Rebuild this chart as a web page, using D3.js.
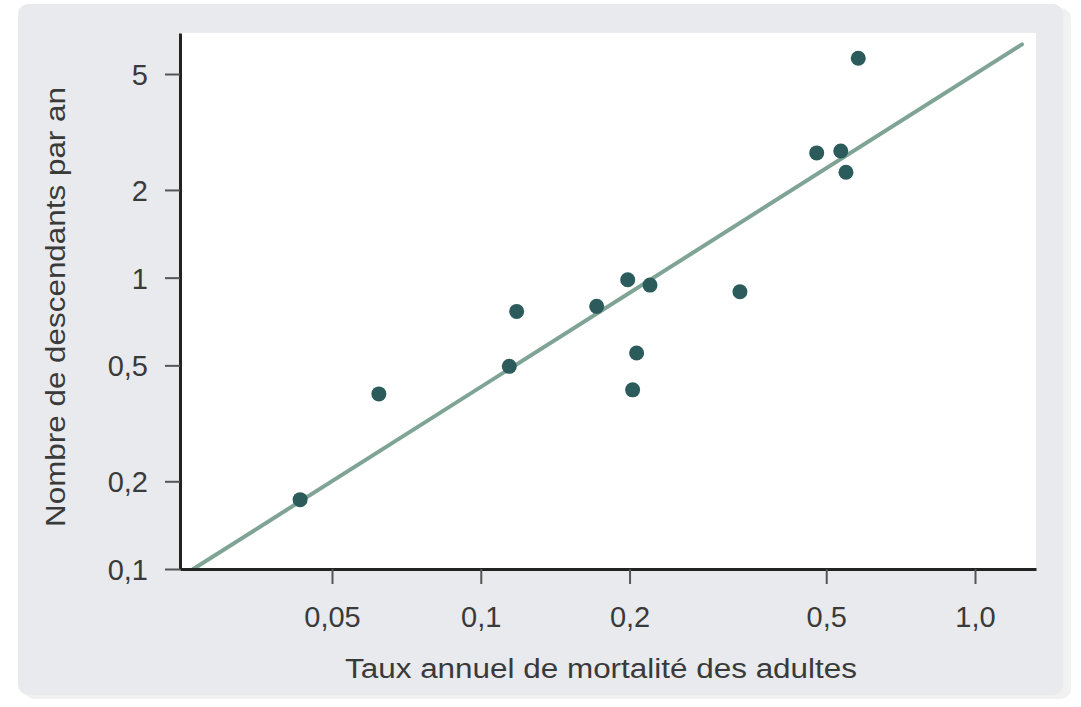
<!DOCTYPE html>
<html>
<head>
<meta charset="utf-8">
<script src="https://cdn.jsdelivr.net/npm/d3@7"></script>
<style>
  html, body { margin: 0; padding: 0; background: #ffffff; }
  svg { display: block; }
  text { font-family: "Liberation Sans", Arial, Helvetica, sans-serif; fill: #3a3a3a; }
</style>
</head>
<body>
<svg id="chart" width="1081" height="707"></svg>
<script>
// ---- data ----
const mortality = [0.0431, 0.0622, 0.1182, 0.1142, 0.1716, 0.1983, 0.2200, 0.2067, 0.2029, 0.3345, 0.4783, 0.5350, 0.5482, 0.5805];
const offspring = [0.173, 0.399, 0.766, 0.496, 0.797, 0.984, 0.943, 0.551, 0.412, 0.895, 2.68, 2.72, 2.30, 5.66];
const fitX = [0.0262, 1.245];
const fitY = [0.1, 6.32];
const xTickValues = [0.05, 0.1, 0.2, 0.5, 1.0];
const xTickLabels = ["0,05", "0,1", "0,2", "0,5", "1,0"];
const yTickValues = [0.1, 0.2, 0.5, 1, 2, 5];
const yTickLabels = ["0,1", "0,2", "0,5", "1", "2", "5"];
const xTitle = "Taux annuel de mortalité des adultes";
const yTitle = "Nombre de descendants par an";

const svg = d3.select("#chart");

// layout
const plotLeft = 180, plotRight = 1036, plotTop = 33, plotBottom = 569;

// background panel
svg.append("rect").attr("x", 24).attr("y", 8).attr("width", 1047).attr("height", 691)
  .attr("rx", 10).attr("fill", "#f1f1f2");
svg.append("rect").attr("x", 18).attr("y", 4).attr("width", 1045).attr("height", 691)
  .attr("rx", 10).attr("fill", "#e8eaed");

// scales (calibrated on tick positions)
const xBase = d3.scaleLog().domain([0.05, 1]).range([332, 975]);
const x = d3.scaleLog().domain([xBase.invert(plotLeft), xBase.invert(plotRight)]).range([plotLeft, plotRight]);
const yBase = d3.scaleLog().domain([0.1, 5]).range([plotBottom, 74]);
const y = d3.scaleLog().domain([0.1, yBase.invert(plotTop)]).range([plotBottom, plotTop]);

// plot area
svg.append("rect").attr("x", plotLeft).attr("y", plotTop)
  .attr("width", plotRight - plotLeft).attr("height", plotBottom - plotTop)
  .attr("fill", "#ffffff");

// fit line
const line = d3.line().x(d => x(d[0])).y(d => y(d[1]));
svg.append("path").datum(d3.zip(fitX, fitY))
  .attr("d", line).attr("fill", "none")
  .attr("stroke", "#7fa495").attr("stroke-width", 4).attr("stroke-linecap", "round");

// points
svg.append("g").selectAll("circle").data(d3.zip(mortality, offspring)).join("circle")
  .attr("cx", d => x(d[0])).attr("cy", d => y(d[1])).attr("r", 7.5)
  .attr("fill", "#2c5b5c");

// axes
const xAxis = d3.axisBottom(x).tickValues(xTickValues)
  .tickFormat((d, i) => xTickLabels[i]).tickSize(15).tickSizeOuter(0).tickPadding(10);
const gx = svg.append("g").attr("transform", `translate(0,${plotBottom})`).call(xAxis);

const yAxis = d3.axisLeft(y).tickValues(yTickValues)
  .tickFormat((d, i) => yTickLabels[i]).tickSize(15).tickSizeOuter(0).tickPadding(17);
const gy = svg.append("g").attr("transform", `translate(${plotLeft},0)`).call(yAxis);

[gx, gy].forEach(g => {
  g.attr("font-size", 29).attr("font-family", "'Liberation Sans', Arial, sans-serif");
  g.select(".domain").attr("stroke", "#222").attr("stroke-width", 3);
  g.selectAll(".tick line").attr("stroke", "#555").attr("stroke-width", 2);
  g.selectAll(".tick text").attr("font-size", 29).style("font-size", "29px").attr("fill", "#3a3a3a");
});
gx.selectAll(".tick text").attr("dy", null).attr("y", 0)
  .attr("transform", "translate(0,58)");
gy.selectAll(".tick text").attr("dy", "0.36em");

// titles
svg.append("text").attr("x", 601).attr("y", 678).attr("text-anchor", "middle")
  .style("font-size", "27px").attr("textLength", 512).attr("lengthAdjust", "spacingAndGlyphs")
  .text(xTitle);
svg.append("text").attr("transform", "translate(65,307) rotate(-90)").attr("text-anchor", "middle")
  .style("font-size", "27px").attr("textLength", 440).attr("lengthAdjust", "spacingAndGlyphs")
  .text(yTitle);
</script>
</body>
</html>
